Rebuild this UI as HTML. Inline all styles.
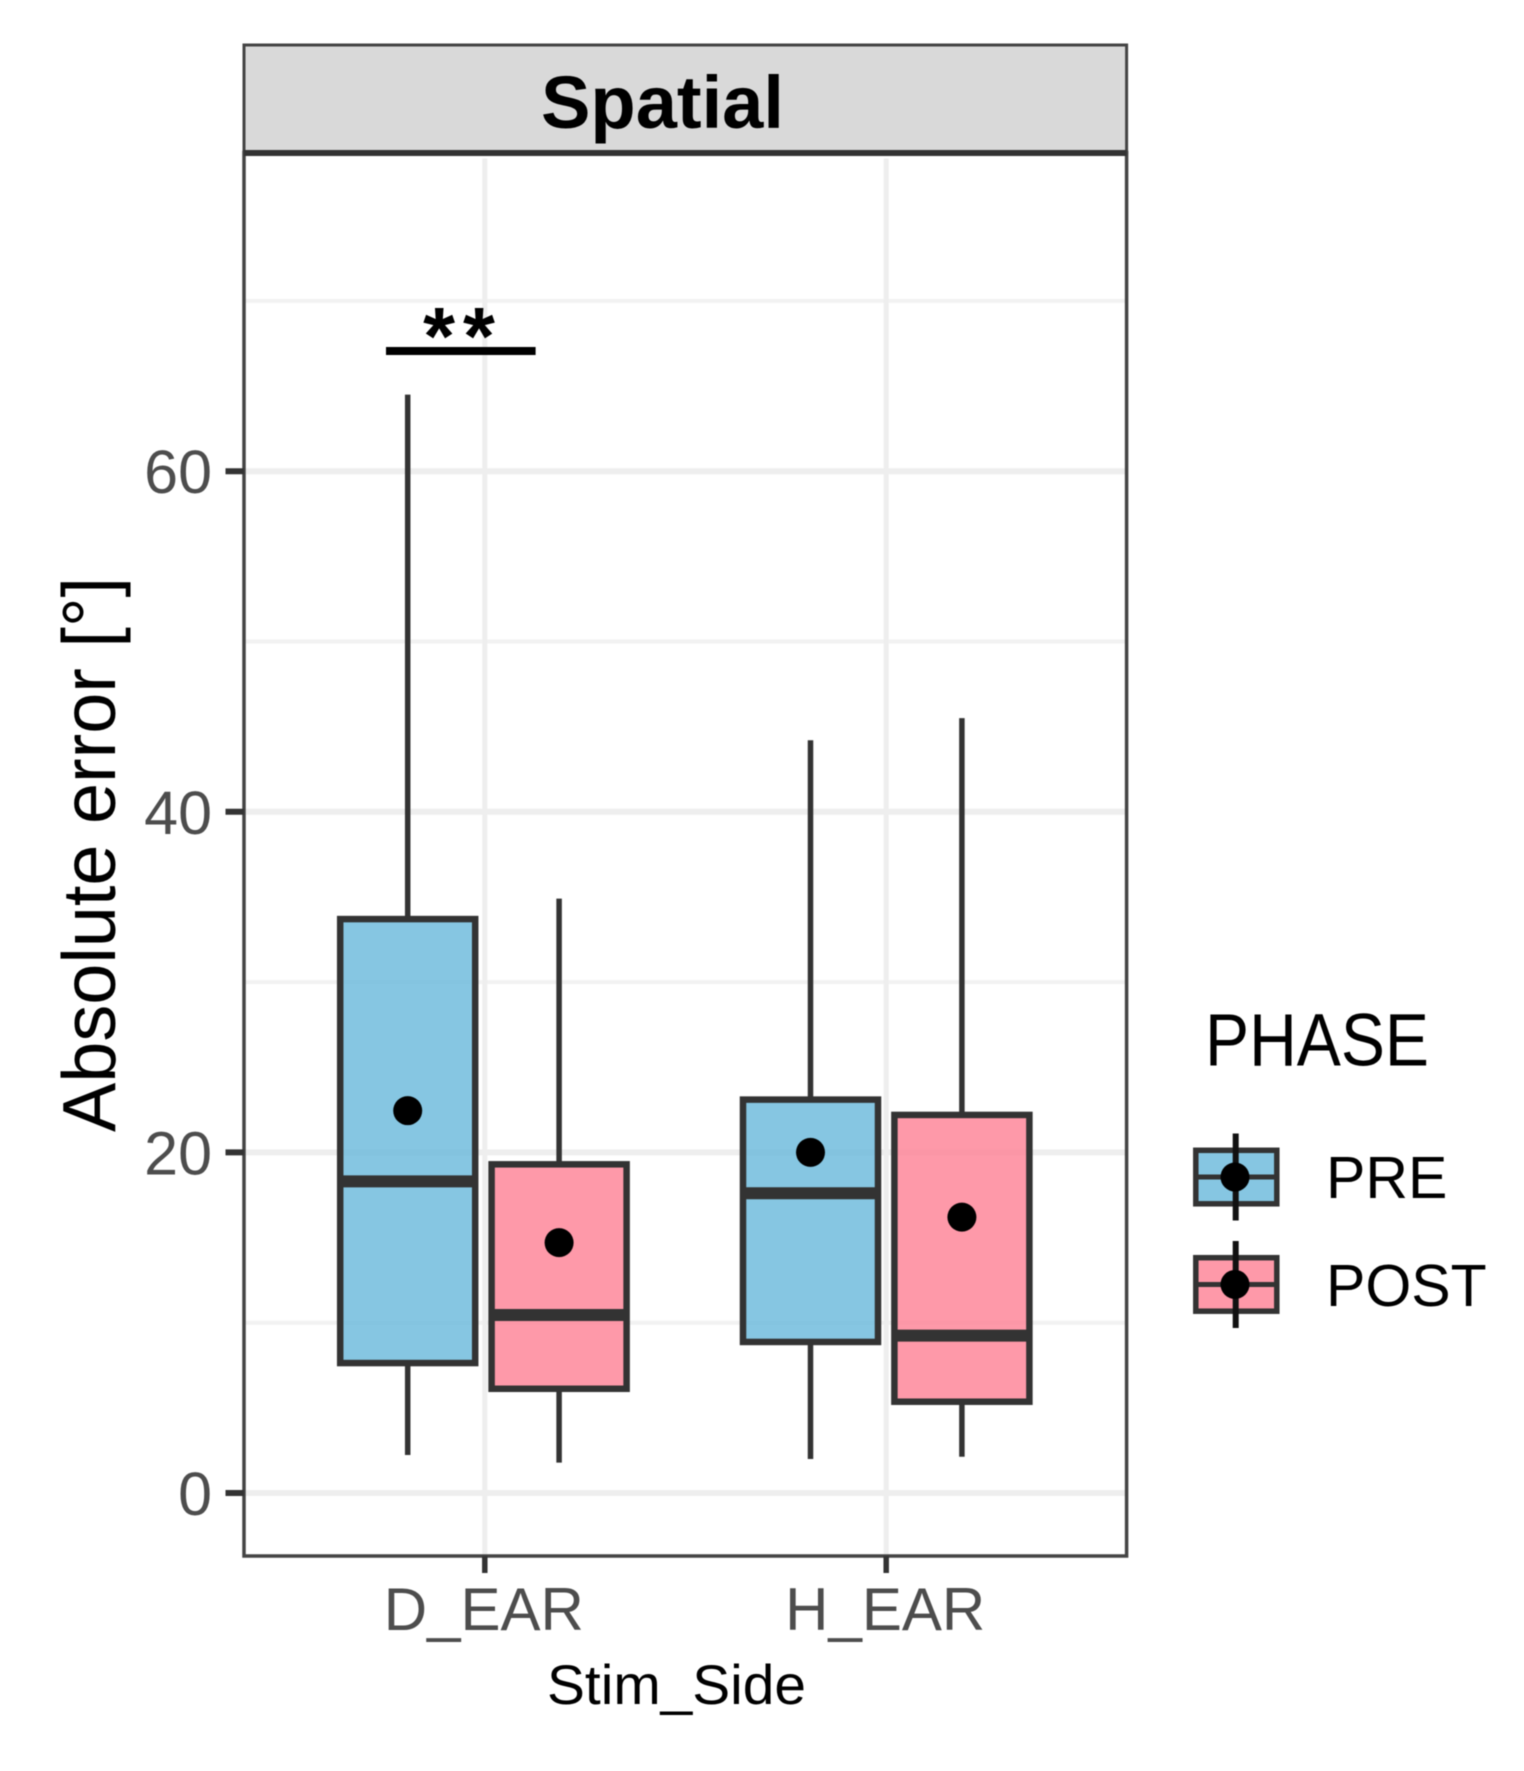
<!DOCTYPE html>
<html lang="en">
<head>
<meta charset="utf-8">
<title>Spatial absolute error boxplot</title>
<style>
  html, body { margin: 0; padding: 0; background: #ffffff; }
  svg { display: block; filter: blur(0.5px); }
  text { font-family: "Liberation Sans", "DejaVu Sans", sans-serif; }
</style>
</head>
<body>
<svg id="chart" xmlns="http://www.w3.org/2000/svg" width="1524" height="1771" viewBox="0 0 1524 1771"></svg>
<script>
const categories = ["D_EAR", "H_EAR"];
const phases = ["PRE", "POST"];
const whiskerHigh = [[64.5, 34.9], [44.2, 45.5]];
const q3Values = [[33.7, 19.3], [23.1, 22.2]];
const medianValues = [[18.3, 10.45], [17.6, 9.24]];
const q1Values = [[7.63, 6.12], [8.87, 5.36]];
const whiskerLow = [[2.23, 1.78], [2.0, 2.13]];
const meanValues = [[22.45, 14.7], [20.0, 16.2]];
const majorTicks = [0, 20, 40, 60];
const minorTicks = [10, 30, 50, 70];
const tickLabels = ["0", "20", "40", "60"];
const significanceValue = [67.06];
const significanceLabel = ["**"];

const NS = "http://www.w3.org/2000/svg";
const svg = document.getElementById("chart");
const panel = { left: 244, right: 1126.6, top: 152.5, bottom: 1556 };
const dark = "#333333";
const fills = ["#68b8db", "#fe8094"];

function yScale(v) { return 1493 - 17.03 * v; }
function xScale(i) { return 484.8 + 401.4 * i; }
function boxCenter(i) { return 483.4 + 402.8 * i; }
function dodge(j) { return (j === 0 ? -1 : 1) * 75.7; }

function make(tag, attrs, text) {
  const el = document.createElementNS(NS, tag);
  for (const k in attrs) el.setAttribute(k, attrs[k]);
  if (text !== undefined) el.textContent = text;
  svg.appendChild(el);
  return el;
}

let el;

el = make("rect", { x: 0, y: 0, width: 1524, height: 1771, fill: "#ffffff" });



// Gridlines
minorTicks.forEach(function (t) {
  const g = make("line", { x1: panel.left, x2: panel.right, y1: yScale(t), y2: yScale(t), stroke: "#f2f2f2", "stroke-width": 4 });
  
  
});
majorTicks.forEach(function (t) {
  const g = make("line", { x1: panel.left, x2: panel.right, y1: yScale(t), y2: yScale(t), stroke: "#eeeeee", "stroke-width": 6 });
  
  
});
categories.forEach(function (c, i) {
  const g = make("line", { x1: xScale(i), x2: xScale(i), y1: panel.top + 6, y2: panel.bottom, stroke: "#eeeeee", "stroke-width": 5 });
  
  
});

// Boxplots
categories.forEach(function (c, i) {
  phases.forEach(function (p, j) {
    const cx = boxCenter(i) + dodge(j);
    const halfW = 67.5;

    const up = make("line", { x1: cx, x2: cx, y1: yScale(whiskerHigh[i][j]), y2: yScale(q3Values[i][j]), stroke: dark, "stroke-width": 5.5 });
    
    

    const low = make("line", { x1: cx, x2: cx, y1: yScale(q1Values[i][j]), y2: yScale(whiskerLow[i][j]), stroke: dark, "stroke-width": 5.5 });
    
    

    const box = make("rect", {
      x: cx - halfW, width: halfW * 2,
      y: yScale(q3Values[i][j]), height: yScale(q1Values[i][j]) - yScale(q3Values[i][j]),
      fill: fills[j], "fill-opacity": 0.8, stroke: dark, "stroke-width": 6.5
    });
    
    

    const med = make("line", { x1: cx - halfW, x2: cx + halfW, y1: yScale(medianValues[i][j]), y2: yScale(medianValues[i][j]), stroke: dark, "stroke-width": 12 });
    
    

    const dot = make("circle", { cx: cx, cy: yScale(meanValues[i][j]), r: 14.5, fill: "#000000" });
    
    
  });
});

// Panel border
el = make("rect", { x: panel.left, y: panel.top, width: panel.right - panel.left, height: panel.bottom - panel.top, fill: "none", stroke: "#444444", "stroke-width": 3.5 });



// Facet strip
el = make("rect", { x: panel.left, y: 45, width: panel.right - panel.left, height: 107.5, fill: "#d9d9d9", stroke: "#444444", "stroke-width": 3 });



el = make("line", { x1: panel.left, x2: panel.right, y1: 153, y2: 153, stroke: "#333333", "stroke-width": 6 });



el = make("text", { x: 541, y: 128, "font-size": 74, "font-weight": 700, fill: "#000000", textLength: 243, lengthAdjust: "spacingAndGlyphs" }, "Spatial");



// Y axis ticks and labels
majorTicks.forEach(function (t, k) {
  const m = make("line", { x1: 225.5, x2: 244, y1: yScale(t), y2: yScale(t), stroke: dark, "stroke-width": 6 });
  
  
  const l = make("text", { x: 212, y: yScale(t) + 22, "font-size": 61, fill: "#4d4d4d", "text-anchor": "end" }, tickLabels[k]);
  
  
});

// X axis ticks and labels
categories.forEach(function (c, i) {
  const m = make("line", { x1: xScale(i), x2: xScale(i), y1: panel.bottom, y2: 1573, stroke: dark, "stroke-width": 5.5 });
  
  
  const l = make("text", { x: xScale(i) - 1, y: 1630, "font-size": 60, fill: "#4d4d4d", "text-anchor": "middle" }, c);
  
  
});

// Axis titles
el = make("text", { transform: "translate(115 1132) rotate(-90)", x: 0, y: 0, "font-size": 75, fill: "#000000", textLength: 555, lengthAdjust: "spacingAndGlyphs" }, "Absolute error [°]");



el = make("text", { x: 547, y: 1704, "font-size": 56, fill: "#000000", textLength: 259, lengthAdjust: "spacingAndGlyphs" }, "Stim_Side");



// Significance annotation
el = make("line", { x1: 386, x2: 535.6, y1: yScale(significanceValue[0]), y2: yScale(significanceValue[0]), stroke: "#000000", "stroke-width": 8 });



el = make("text", { x: 463, y: yScale(significanceValue[0]) + 13.5, "font-size": 82, "font-weight": 700, "letter-spacing": 8, fill: "#000000", "text-anchor": "middle" }, significanceLabel[0]);



// Legend
el = make("text", { x: 1205, y: 1065.7, "font-size": 74, fill: "#000000", textLength: 224, lengthAdjust: "spacingAndGlyphs" }, "PHASE");



const legendKeyY = [1150.3, 1257.7];
const legendFills = ["#86c6e2", "#fe99a9"];
const legendTextY = [1198, 1306];
const legendTextSize = [59, 59];
phases.forEach(function (p, j) {
  const top = legendKeyY[j];
  const h = 53.5;
  const mid = top + h / 2;
  const r = make("rect", { x: 1195.8, y: top, width: 81, height: h, fill: legendFills[j], stroke: dark, "stroke-width": 5.5 });
  
  
  const ml = make("line", { x1: 1195.8, x2: 1276.8, y1: mid, y2: mid, stroke: dark, "stroke-width": 5 });
  
  
  const vl = make("line", { x1: 1235.7, x2: 1235.7, y1: mid - 43.5, y2: mid + 43.5, stroke: "#111111", "stroke-width": 6 });
  
  
  const d = make("circle", { cx: 1235, cy: mid, r: 14.5, fill: "#000000" });
  
  
  const t = make("text", { x: 1326, y: legendTextY[j], "font-size": legendTextSize[j], fill: "#000000" }, p);
  
  
});
</script>
</body>
</html>
